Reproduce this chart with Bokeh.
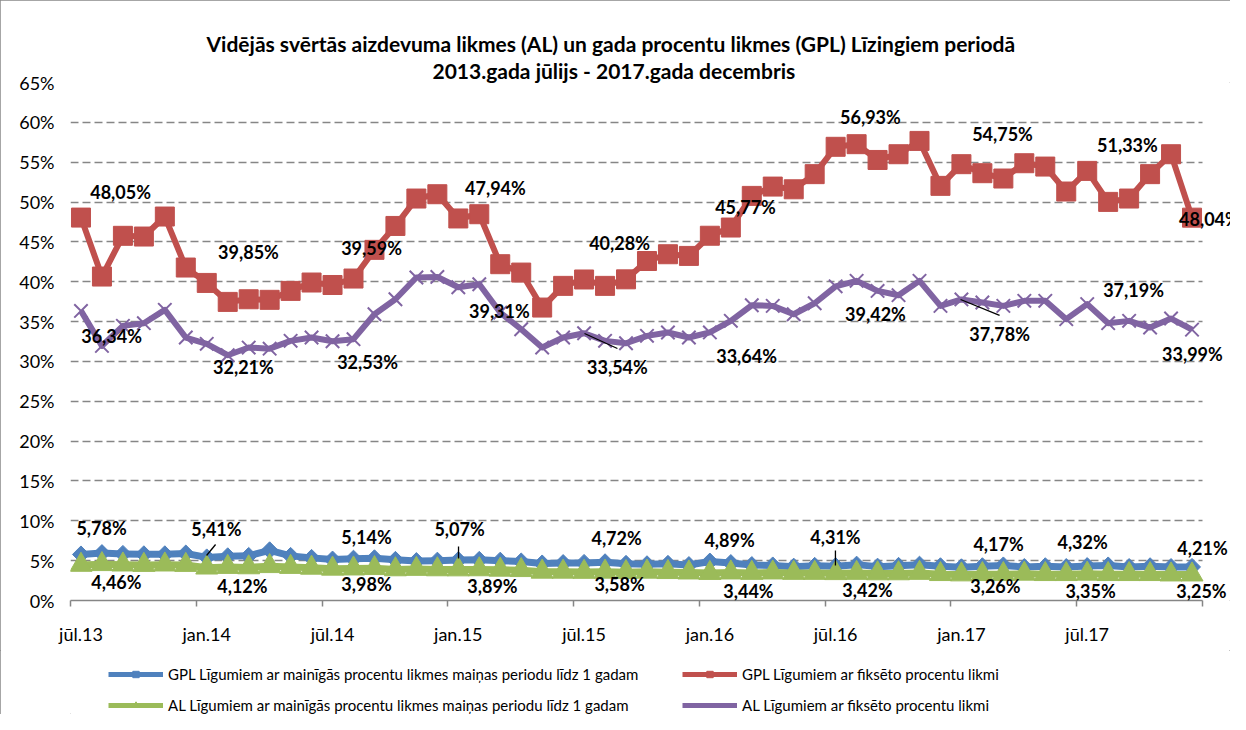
from bokeh.plotting import figure
from bokeh.layouts import column
from bokeh.models import (ColumnDataSource, FixedTicker, LinearAxis, Range1d, Title,
                          LabelSet, Legend, LegendItem)
from bokeh.core.properties import value
from bokeh.embed import file_html
from bokeh.resources import INLINE

# ---------------- data (Jul 2013 .. Dec 2017, monthly) ----------------
N_MONTHS = 54
tick_labels = ["jūl.13", "jan.14", "jūl.14", "jan.15", "jūl.15",
               "jan.16", "jūl.16", "jan.17", "jūl.17"]

series_names = [
    "GPL Līgumiem ar mainīgās procentu likmes maiņas periodu līdz 1 gadam",
    "GPL Līgumiem ar fiksēto procentu likmi",
    "AL Līgumiem ar mainīgās procentu likmes maiņas periodu līdz 1 gadam",
    "AL Līgumiem ar fiksēto procentu likmi",
]

gpl_var = [5.78, 5.95, 5.85, 5.80, 5.80, 5.90, 5.41, 5.55, 5.60, 6.30, 5.60, 5.35,
           5.14, 5.25, 5.30, 5.10, 4.95, 5.00, 5.07, 5.10, 5.00, 4.90, 4.65, 4.70,
           4.72, 4.80, 4.60, 4.55, 4.60, 4.45, 4.89, 4.70, 4.45, 4.40, 4.25, 4.35,
           4.31, 4.50, 4.25, 4.35, 4.50, 4.30, 4.17, 4.30, 4.40, 4.20, 4.30, 4.20,
           4.32, 4.40, 4.20, 4.30, 4.20, 4.21]

gpl_fix = [48.05, 40.65, 45.76, 45.67, 48.18, 41.78, 39.85, 37.47, 37.80, 37.73, 38.85, 39.90,
           39.59, 40.40, 44.00, 47.00, 50.44, 50.98, 47.94, 48.47, 42.20, 41.15, 36.76, 39.48,
           40.28, 39.48, 40.30, 42.60, 43.45, 43.24, 45.77, 46.80, 50.77, 51.94, 51.60, 53.50,
           56.93, 57.26, 55.28, 56.00, 57.67, 52.03, 54.75, 53.62, 52.95, 54.87, 54.45, 51.32,
           53.91, 50.02, 50.44, 53.50, 56.00, 48.04]

al_var = [4.46, 4.55, 4.50, 4.45, 4.50, 4.45, 4.12, 4.20, 4.15, 4.30, 4.20, 4.10,
          3.98, 4.00, 4.05, 3.90, 3.95, 3.90, 3.89, 3.90, 3.85, 3.80, 3.60, 3.60,
          3.58, 3.60, 3.55, 3.60, 3.55, 3.50, 3.44, 3.50, 3.45, 3.50, 3.45, 3.45,
          3.42, 3.45, 3.40, 3.40, 3.45, 3.30, 3.26, 3.30, 3.30, 3.35, 3.30, 3.30,
          3.35, 3.30, 3.30, 3.30, 3.25, 3.25]

al_fix = [36.34, 31.95, 34.46, 34.80, 36.47, 33.00, 32.21, 30.78, 31.74, 31.60, 32.58, 33.00,
          32.53, 32.79, 35.92, 37.80, 40.53, 40.60, 39.31, 39.69, 36.13, 34.04, 31.74, 33.00,
          33.54, 32.58, 32.28, 33.21, 33.63, 33.00, 33.64, 35.09, 37.05, 36.97, 35.92, 37.30,
          39.42, 40.11, 38.85, 38.31, 40.11, 36.97, 37.78, 37.39, 36.97, 37.60, 37.60, 35.30,
          37.19, 34.80, 35.09, 34.25, 35.38, 33.99]

# data-label texts (as printed on the chart)
gpl_var_labels = ["5,78%", "5,41%", "5,14%", "5,07%", "4,72%", "4,89%", "4,31%", "4,17%", "4,32%", "4,21%"]
gpl_fix_labels = ["48,05%", "39,85%", "39,59%", "47,94%", "40,28%", "45,77%", "56,93%", "54,75%", "51,33%", "48,04%"]
al_var_labels = ["4,46%", "4,12%", "3,98%", "3,89%", "3,58%", "3,44%", "3,42%", "3,26%", "3,35%", "3,25%"]
al_fix_labels = ["36,34%", "32,21%", "32,53%", "39,31%", "33,54%", "33,64%", "39,42%", "37,78%", "37,19%", "33,99%"]

title_lines = ["Vidējās svērtās aizdevuma likmes (AL) un gada procentu likmes (GPL) Līzingiem periodā",
               "2013.gada jūlijs - 2017.gada decembris"]

# ---------------- placement of data labels (data coords) ----------------
gpl_var_lpos = [(1.48, 9.04), (6.96, 8.91), (14.12, 8.03), (18.56, 8.91), (26.05, 7.78),
                (31.44, 7.65), (36.49, 8.03), (44.27, 7.03), (48.28, 7.28), (54.0, 6.65)]
gpl_fix_lpos = [(2.39, 51.32), (8.49, 43.79), (14.36, 44.17), (20.27, 51.82), (26.19, 44.80),
                (32.20, 49.32), (38.16, 60.73), (44.46, 58.48), (50.42, 57.22), (54.33, 47.81)]
al_var_lpos = [(2.19, 2.38), (8.20, 1.76), (14.12, 2.01), (20.13, 1.76), (26.19, 2.01),
               (32.34, 1.25), (38.02, 1.38), (44.12, 1.76), (48.66, 1.25), (53.95, 1.22)]
al_fix_lpos = [(1.96, 33.25), (8.25, 29.36), (14.17, 29.87), (20.46, 36.27), (26.09, 29.36),
               (32.25, 30.62), (38.40, 36.01), (44.32, 33.50), (50.71, 38.90), (53.52, 30.99)]
leaders = [((6.49, 5.65), (6.92, 7.03)), ((18.51, 6.78), (18.51, 5.27)),
           ((36.49, 6.27), (36.49, 4.39)), ((24.52, 33.5), (26.09, 31.62)),
           ((42.46, 37.77), (44.32, 35.77))]

BLUE, RED, GREEN, PURPLE = "#4F81BD", "#C0504D", "#9BBB59", "#8064A2"
FONT = "Lato"

xs = [i + 0.5 for i in range(N_MONTHS)]

# frame: page x 78 .. 1238 ; the axis (0..54) ends at page x 1210
X_END = N_MONTHS * 1160 / 1132

p = figure(width=1230, height=650, output_backend="svg", toolbar_location=None,
           x_range=Range1d(0, X_END), y_range=Range1d(0, 65),
           min_border_left=70, min_border_right=0, min_border_top=82, min_border_bottom=50,
           background_fill_color="white", border_fill_color="white")
p.outline_line_color = None

# ---- title (two centred lines)
for txt, off, so in [(title_lines[1], 362, 0), (title_lines[0], 136, 0)]:
    p.add_layout(Title(text=txt, align="left", offset=off, standoff=so,
                       text_font=FONT, text_font_style="bold", text_font_size="21px",
                       text_color="black"), "above")

# ---- y axis / grid
yticks = list(range(0, 66, 5))
p.yaxis.ticker = FixedTicker(ticks=yticks)
p.yaxis.major_label_overrides = {t: f"{t}%" for t in yticks}
p.yaxis.axis_line_color = None
p.yaxis.major_tick_line_color = None
p.yaxis.minor_tick_line_color = None
p.yaxis.major_tick_out = 0
p.yaxis.major_tick_in = 0
p.yaxis.major_label_standoff = 16
p.yaxis.major_label_text_font = FONT
p.yaxis.major_label_text_font_size = "18px"
p.yaxis.major_label_text_color = "#000000"

p.xgrid.visible = False
try:
    p.ygrid.cross_bounds = (0, N_MONTHS)
    p.ygrid.ticker = FixedTicker(ticks=yticks[1:])
    p.ygrid.grid_line_color = "#868686"
    p.ygrid.grid_line_dash = "8 4"
    p.ygrid.grid_line_width = 1.5
except Exception:
    p.ygrid.visible = False
    p.segment(x0=[0] * (len(yticks) - 1), x1=[N_MONTHS] * (len(yticks) - 1),
              y0=yticks[1:], y1=yticks[1:], line_color="#868686", line_dash="8 4",
              line_width=1.5, level="underlay")

# ---- x axis: tick marks at half-year boundaries, labels at month centres
xb = p.xaxis[0]
bticks = list(range(0, N_MONTHS + 1, 6))
xb.ticker = FixedTicker(ticks=bticks)
xb.bounds = (0, N_MONTHS)
xb.major_label_overrides = {t: "" for t in bticks}
xb.major_label_text_font_size = "1px"
xb.major_label_standoff = 0
xb.axis_line_color = "#868686"
xb.axis_line_width = 1.5
xb.major_tick_line_color = "#868686"
xb.major_tick_line_width = 1.5
xb.major_tick_in = 0
xb.major_tick_out = 6
xb.minor_tick_line_color = None

lticks = [b + 0.5 for b in bticks[:len(tick_labels)]]
xl = LinearAxis(ticker=FixedTicker(ticks=lticks),
                major_label_overrides={t: s for t, s in zip(lticks, tick_labels)},
                axis_line_color=None, major_tick_line_color=None, minor_tick_line_color=None,
                major_tick_in=0, major_tick_out=0, major_label_standoff=16,
                major_label_text_font=FONT, major_label_text_font_size="18px",
                major_label_text_color="#000000")
p.add_layout(xl, "below")

# ---- series: (values, colour, marker, size, angle, line width)
specs = [(gpl_var, BLUE, "square", 12, 45, 7),
         (gpl_fix, RED, "square", 19, 0, 6),
         (al_var, GREEN, "triangle", 22, 0, 7),
         (al_fix, PURPLE, "x", 19, 0, 6)]
for vals, col, marker, msize, ang, lw in specs:
    src = ColumnDataSource(dict(x=xs, y=vals))
    p.line("x", "y", source=src, line_color=col, line_width=lw, line_join="round")
    p.scatter("x", "y", source=src, marker=marker, size=msize, angle=ang, angle_units="deg",
              fill_color=col, line_color=col, line_width=2 if marker == "x" else 1)

# ---- leader lines
p.segment(x0=[a[0] for a, b in leaders], y0=[a[1] for a, b in leaders],
          x1=[b[0] for a, b in leaders], y1=[b[1] for a, b in leaders],
          line_color="black", line_width=1.3)

# ---- data labels
for texts, pos in [(gpl_var_labels, gpl_var_lpos), (gpl_fix_labels, gpl_fix_lpos),
                   (al_var_labels, al_var_lpos), (al_fix_labels, al_fix_lpos)]:
    ls = ColumnDataSource(dict(x=[q[0] for q in pos], y=[q[1] for q in pos], t=texts))
    p.add_layout(LabelSet(x="x", y="y", text="t", source=ls, text_font=value(FONT),
                          text_font_style="bold", text_font_size="18px", text_color="black",
                          text_align="center", text_baseline="middle"))

# ---- legend strip (separate small figure below the chart)
pl = figure(width=1230, height=64, output_backend="svg", toolbar_location=None,
            x_range=Range1d(0, 1), y_range=Range1d(0, 1), min_border=0,
            x_axis_location=None, y_axis_location=None,
            background_fill_color="white", border_fill_color="white")
pl.outline_line_color = None
pl.grid.visible = False
leg_r = []
for vals, col, marker, msize, ang, lw in specs:
    lr = pl.line(x=[-5, -4], y=[-5, -4], line_color=col, line_width=5)
    sr = pl.scatter(x=[-5], y=[-5], marker=marker, size=9, angle=ang, angle_units="deg",
                    fill_color=col, line_color=col)
    leg_r.append([lr, sr])
for idxs, lx in [([0, 2], 38), ([1, 3], 612)]:
    items = [LegendItem(label=series_names[k], renderers=leg_r[k]) for k in idxs]
    pl.add_layout(Legend(items=items, location=(lx, 0), orientation="vertical",
                         glyph_width=55, glyph_height=16, label_standoff=5, spacing=13,
                         padding=0, margin=0, border_line_color=None,
                         background_fill_alpha=0, label_text_font=FONT,
                         label_text_font_size="15px", label_text_color="black",
                         label_height=16), "center")

lay = column(p, pl, spacing=0)
lay.styles = {"outline": "1px solid #898989", "outline-offset": "-1px"}

open("out.html", "w").write(file_html(lay, INLINE))
